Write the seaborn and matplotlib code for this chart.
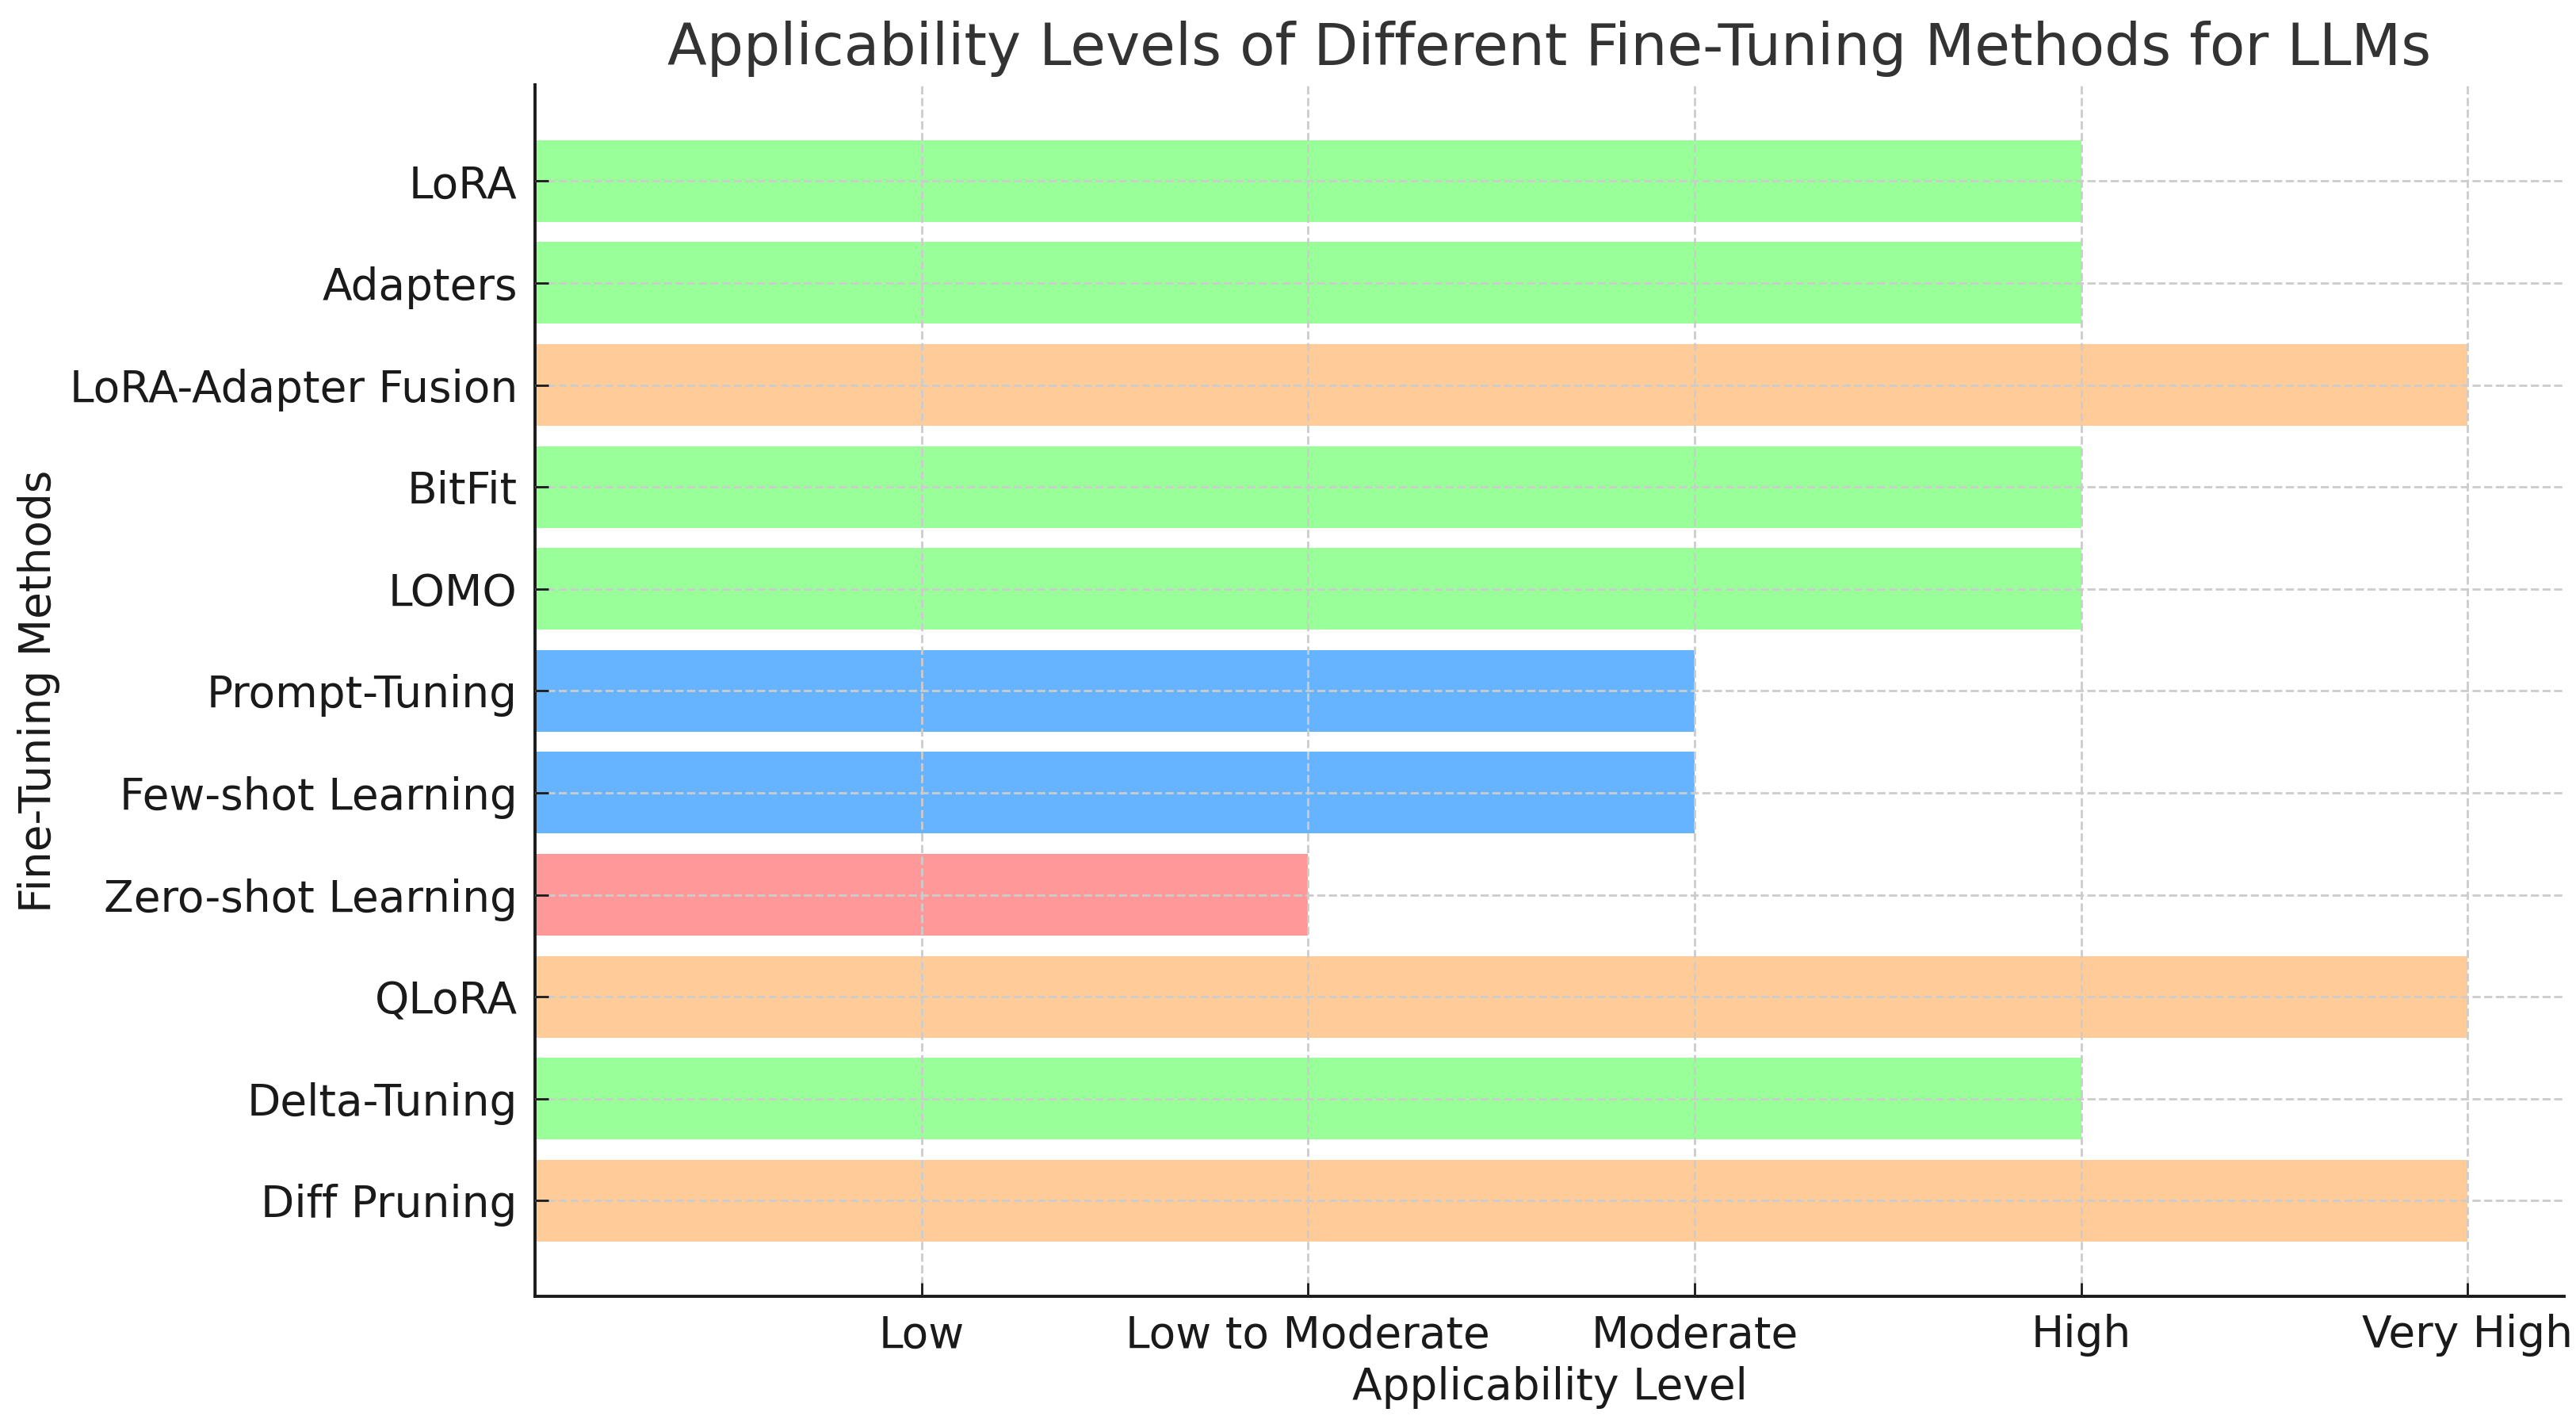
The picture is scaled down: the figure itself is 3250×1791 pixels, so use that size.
import pandas as pd
import matplotlib
matplotlib.use("Agg")
import matplotlib.pyplot as plt
import seaborn as sns

# Fine-tuning methods (top to bottom) and their applicability levels
methods = ["LoRA", "Adapters", "LoRA-Adapter Fusion", "BitFit", "LOMO",
           "Prompt-Tuning", "Few-shot Learning", "Zero-shot Learning",
           "QLoRA", "Delta-Tuning", "Diff Pruning"]
levels = ["High", "High", "Very High", "High", "High",
          "Moderate", "Moderate", "Low to Moderate",
          "Very High", "High", "Very High"]

level_names = ["Low", "Low to Moderate", "Moderate", "High", "Very High"]
level_values = [1, 2, 3, 4, 5]
level_colors = {"Low": "#ff6666", "Low to Moderate": "#ff9999", "Moderate": "#66b3ff",
                "High": "#99ff99", "Very High": "#ffcc99"}

score = dict(zip(level_names, level_values))
df = pd.DataFrame({"method": methods, "level": levels})
df["score"] = df["level"].map(score)

plt.rcParams["font.family"] = ["DejaVu Sans"]
fig, ax = plt.subplots(figsize=(16.25, 8.955), dpi=200)

sns.barplot(data=df, y="method", x="score", hue="method",
            palette=[level_colors[l] for l in levels], orient="h",
            width=0.8, legend=False, ax=ax, saturation=1)

ax.set_xlim(0, 5.25)
ax.set_ylim(len(methods) - 1 + 0.94, -0.94)
ax.set_xticks(level_values)
ax.set_xticklabels(level_names)

ax.set_title("Applicability Levels of Different Fine-Tuning Methods for LLMs",
             fontsize=26.2, color="#333333", pad=9)
ax.set_xlabel("Applicability Level", fontsize=19.8, color="#1a1a1a")
ax.set_ylabel("Fine-Tuning Methods", fontsize=19.8, color="#1a1a1a")

ax.tick_params(axis="both", labelsize=19.8, direction="in", length=6, width=1,
               colors="#1a1a1a", pad=8)
ax.grid(True, linestyle="--", color="#cccccc", linewidth=1)
ax.set_axisbelow(False)

for s in ["top", "right"]:
    ax.spines[s].set_visible(False)
for s in ["left", "bottom"]:
    ax.spines[s].set_linewidth(1.4)
    ax.spines[s].set_color("#1a1a1a")

fig.subplots_adjust(left=0.2077, right=0.9954, top=0.94, bottom=0.087)
fig.savefig("out.png", dpi=200)
